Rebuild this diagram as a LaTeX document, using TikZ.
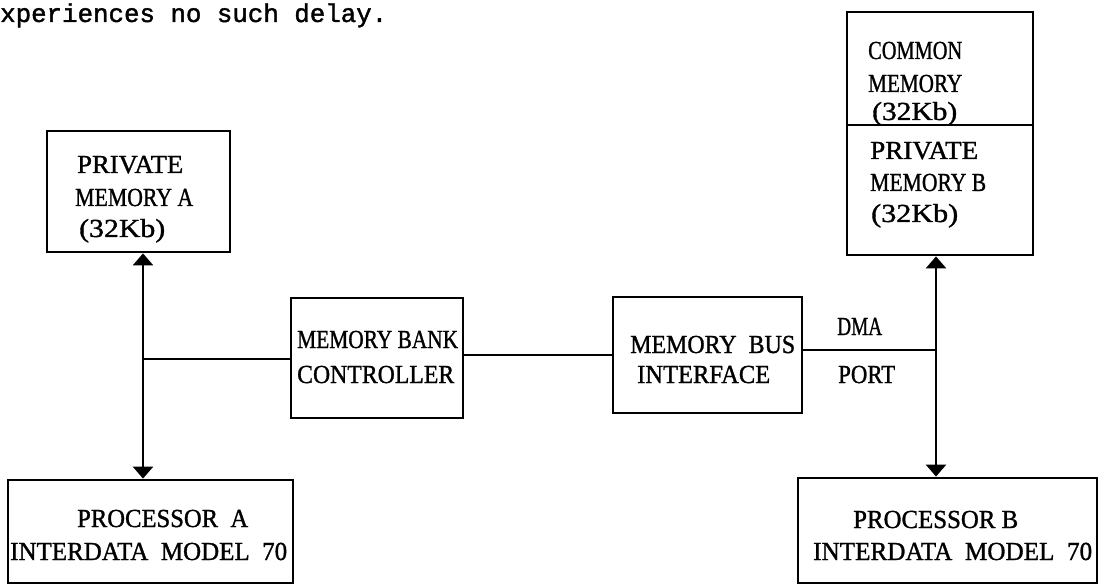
\documentclass[tikz,border=0pt]{standalone}
\usepackage{fontspec}
\usepackage{graphicx}
\setmainfont[FakeBold=1.2]{Liberation Serif}
\newfontfamily\tyfont[FakeBold=1.5]{Liberation Mono}
\usetikzlibrary{arrows.meta}
\newcommand\fw[2]{\resizebox{#1pt}{\height}{#2}}
\begin{document}
\begin{tikzpicture}[x=1pt,y=-1pt,
  box/.style={draw, line width=2.8pt, rectangle, inner sep=0pt},
  conn/.style={line width=2.6pt},
  tip/.style={},
  biarrow/.style={conn, {Triangle[width=20pt,length=12pt]}-{Triangle[width=20pt,length=12pt]}},
  lbl/.style={anchor=base west, inner sep=0pt, font=\fontsize{26}{30}\selectfont},
  intro/.style={anchor=base west, inner sep=0pt, font=\tyfont\fontsize{25.8}{30}\selectfont}]
\useasboundingbox (0,0) rectangle (1100,585);

\node[intro] (txt) at (0,22) {xperiences no such delay.};

% boxes
\node[box, minimum width=183pt, minimum height=121pt] (pmA) at (138.5,191.5) {};
\node[box, minimum width=186pt, minimum height=113pt] (cm) at (940,68.5) {};
\node[box, minimum width=186pt, minimum height=130pt] (pmB) at (940,190) {};
\node[box, minimum width=172pt, minimum height=120pt] (mbc) at (377,358) {};
\node[box, minimum width=189pt, minimum height=116pt] (mbi) at (707.5,355) {};
\node[box, minimum width=285pt, minimum height=103pt] (procA) at (150.5,531.5) {};
\node[box, minimum width=299pt, minimum height=105pt] (procB) at (947.5,530.5) {};

% labels
\node[lbl] (pmA1) at (77,173) {\fw{106}{PRIVATE}};
\node[lbl] (pmA2) at (75,206) {\fw{118}{MEMORY A}};
\node[lbl] (pmA3) at (79,237) {\fw{86}{(32Kb)}};

\node[lbl] (cm1) at (868,59) {\fw{94}{COMMON}};
\node[lbl] (cm2) at (868,92) {\fw{94}{MEMORY}};
\node[lbl] (cm3) at (872,120) {\fw{85}{(32Kb)}};

\node[lbl] (pmB1) at (870,159) {\fw{108}{PRIVATE}};
\node[lbl] (pmB2) at (870,191) {\fw{116}{MEMORY B}};
\node[lbl] (pmB3) at (871,222) {\fw{87}{(32Kb)}};

\node[lbl] (mbc1) at (297,348) {\fw{161}{MEMORY BANK}};
\node[lbl] (mbc2) at (297,383) {\fw{157}{CONTROLLER}};

\node[lbl] (mbi1) at (630,353) {\fw{165}{MEMORY\ \ BUS}};
\node[lbl] (mbi2) at (637,383) {\fw{133}{INTERFACE}};

\node[lbl] (dma) at (837,335) {\fw{45}{DMA}};
\node[lbl] (port) at (838,383) {\fw{57}{PORT}};

\node[lbl] (pA1) at (77,527) {\fw{171}{PROCESSOR\ \ A}};
\node[lbl] (pA2) at (10,560) {\fw{277}{INTERDATA\ \ MODEL\ \ 70}};
\node[lbl] (pB1) at (853,528) {\fw{165}{PROCESSOR B}};
\node[lbl] (pB2) at (813,560) {\fw{279}{INTERDATA\ \ MODEL\ \ 70}};

% junctions
\coordinate (jA) at (143,359);
\coordinate (jM) at (540,355);
\coordinate (jB) at (936,350);

% connectors
\draw[biarrow] (pmA.south -| jA) -- (procA.north -| jA);
\draw[conn] (jA) -- (mbc.west |- jA);
\draw[conn] (mbc.east |- jM) -- (mbi.west |- jM);
\draw[conn] (mbi.east |- jB) -- (jB);
\draw[biarrow] (pmB.south -| jB) -- (procB.north -| jB);
\end{tikzpicture}
\end{document}
